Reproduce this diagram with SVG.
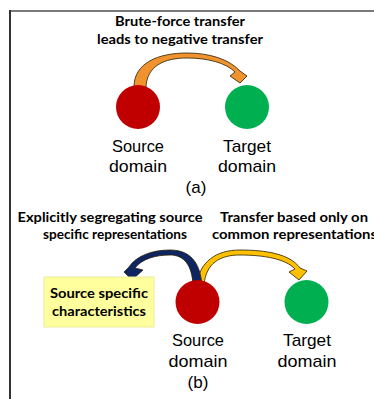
<svg xmlns="http://www.w3.org/2000/svg" width="374" height="399" viewBox="0 0 374 399">
<style>
.t{font-family:Lato,"Liberation Sans",sans-serif;fill:#000;text-anchor:middle}
.b{font-weight:bold;font-size:14px}
.l{font-family:"Liberation Sans",Arial,sans-serif;font-size:17px}
.arr{stroke:#2a2000;stroke-width:0.8;stroke-linejoin:round}
</style>
<rect width="374" height="399" fill="#fff"/>
<g id="frame">
<line x1="10" y1="11" x2="374" y2="11" stroke="#7a7a7a" stroke-width="2"/>
<line x1="10" y1="10" x2="10" y2="399" stroke="#333" stroke-width="2"/>
</g>
<g id="connectors">
<path class="arr" fill="#F0922E" d="M134 87 C134 63 158 53 187 53 C209 53 229 59 240 71 L247 76 L240 83 L230 76 L235 72 C226 63 208 58 187 58 C164 58 147 66 146 87 Z"/>
<path class="arr" fill="#FFC000" d="M197 285 C199 262 216 250 240 250 C266 250 290 254 300 268 L307 271 L299 280 L289 272 L295 269 C286 259 264 255 240 255 C220 255 206 263 204 285 Z"/>
<path class="arr" fill="#0F2463" d="M202 285 C200 262 190 250 170 250 C152 250 136 256 129 267 L124 272 L132 280 L143 270 L135 268 C142 259 155 255 170 255 C184 255 192 265 193 285 Z"/>
</g>
<g id="title-a">
<text class="t b" x="180" y="26" textLength="130" lengthAdjust="spacingAndGlyphs">Brute-force transfer</text>
<text class="t b" x="180" y="44" textLength="166" lengthAdjust="spacingAndGlyphs">leads to negative transfer</text>
</g>
<g id="source-a">
<circle cx="138" cy="107" r="22" fill="#C00000"/>
<text class="t l" x="138" y="152" textLength="52" lengthAdjust="spacingAndGlyphs">Source</text>
<text class="t l" x="138" y="172" textLength="58" lengthAdjust="spacingAndGlyphs">domain</text>
</g>
<g id="target-a">
<circle cx="247" cy="107" r="22" fill="#00B050"/>
<text class="t l" x="247" y="152" textLength="48" lengthAdjust="spacingAndGlyphs">Target</text>
<text class="t l" x="247" y="172" textLength="58" lengthAdjust="spacingAndGlyphs">domain</text>
</g>
<text class="t l" x="196" y="193">(a)</text>
<g id="title-b-left">
<text class="t b" x="110" y="222" textLength="185" lengthAdjust="spacingAndGlyphs">Explicitly segregating source</text>
<text class="t b" x="115" y="239" textLength="144" lengthAdjust="spacingAndGlyphs">specific representations</text>
</g>
<g id="title-b-right">
<text class="t b" x="294" y="222" textLength="148" lengthAdjust="spacingAndGlyphs">Transfer based only on</text>
<text class="t b" x="212" y="239" style="text-anchor:start" textLength="165" lengthAdjust="spacingAndGlyphs">common representations</text>
</g>
<g id="source-specific">
<rect x="44" y="277" width="110" height="50" fill="#FFFF9E" stroke="#ECEC9A" stroke-width="1"/>
<text class="t b" x="99" y="298" textLength="98" lengthAdjust="spacingAndGlyphs">Source specific</text>
<text class="t b" x="99" y="316" textLength="94" lengthAdjust="spacingAndGlyphs">characteristics</text>
</g>
<g id="source-b">
<circle cx="197.5" cy="302" r="22" fill="#C00000"/>
<text class="t l" x="198" y="346" textLength="52" lengthAdjust="spacingAndGlyphs">Source</text>
<text class="t l" x="198" y="367" textLength="59" lengthAdjust="spacingAndGlyphs">domain</text>
</g>
<g id="target-b">
<circle cx="306.5" cy="302" r="22" fill="#00B050"/>
<text class="t l" x="307" y="346" textLength="48" lengthAdjust="spacingAndGlyphs">Target</text>
<text class="t l" x="307" y="367" textLength="59" lengthAdjust="spacingAndGlyphs">domain</text>
</g>
<text class="t l" x="198" y="388">(b)</text>
</svg>
